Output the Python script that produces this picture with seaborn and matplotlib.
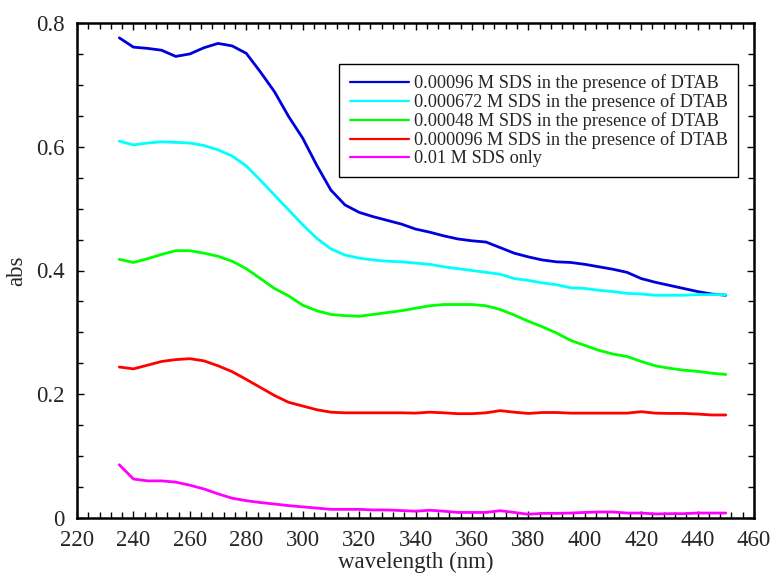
import matplotlib
matplotlib.use("Agg")
import matplotlib.pyplot as plt
import matplotlib.ticker as mticker
import numpy as np
import pandas as pd
import seaborn as sns

# Wavelengths (nm) at which absorbance was recorded
wavelength = [235, 240, 245, 250, 255, 260, 265, 270, 275, 280, 285, 290, 295, 300,
              305, 310, 315, 320, 325, 330, 335, 340, 345, 350, 355, 360, 365, 370,
              375, 380, 385, 390, 395, 400, 405, 410, 415, 420, 425, 430, 435, 440,
              445, 450]

abs_00096 = [0.776, 0.761, 0.759, 0.756, 0.746, 0.750, 0.760, 0.767, 0.763, 0.751,
             0.721, 0.689, 0.649, 0.614, 0.570, 0.530, 0.506, 0.494, 0.487, 0.481,
             0.475, 0.467, 0.462, 0.456, 0.451, 0.448, 0.446, 0.437, 0.428, 0.422,
             0.417, 0.414, 0.413, 0.410, 0.406, 0.402, 0.397, 0.387, 0.381, 0.376,
             0.371, 0.366, 0.362, 0.360]

abs_000672 = [0.609, 0.603, 0.606, 0.608, 0.607, 0.606, 0.602, 0.595, 0.585, 0.569,
              0.546, 0.522, 0.498, 0.474, 0.452, 0.435, 0.425, 0.420, 0.417, 0.415,
              0.414, 0.412, 0.410, 0.406, 0.403, 0.400, 0.397, 0.394, 0.387, 0.384,
              0.380, 0.377, 0.372, 0.371, 0.368, 0.366, 0.363, 0.362, 0.360, 0.360,
              0.360, 0.361, 0.361, 0.361]

abs_00048 = [0.418, 0.413, 0.419, 0.426, 0.432, 0.432, 0.428, 0.423, 0.415, 0.403,
             0.387, 0.371, 0.359, 0.344, 0.335, 0.329, 0.327, 0.326, 0.329, 0.332,
             0.335, 0.339, 0.343, 0.345, 0.345, 0.345, 0.343, 0.337, 0.328, 0.318,
             0.309, 0.299, 0.287, 0.279, 0.271, 0.265, 0.261, 0.253, 0.246, 0.242,
             0.239, 0.237, 0.234, 0.232]

abs_000096 = [0.244, 0.241, 0.247, 0.253, 0.256, 0.2575, 0.254, 0.246, 0.2365, 0.224,
              0.211, 0.198, 0.187, 0.181, 0.175, 0.171, 0.170, 0.170, 0.170, 0.170,
              0.170, 0.1695, 0.171, 0.170, 0.1686, 0.1686, 0.170, 0.1735, 0.171, 0.169,
              0.1705, 0.1705, 0.1695, 0.1695, 0.1695, 0.1695, 0.1695, 0.1718, 0.1695, 0.169,
              0.169, 0.168, 0.1665, 0.1665]

abs_sds_only = [0.086, 0.063, 0.060, 0.060, 0.058, 0.053, 0.047, 0.039, 0.032, 0.028,
                0.025, 0.0226, 0.020, 0.018, 0.016, 0.014, 0.014, 0.014, 0.013, 0.013,
                0.012, 0.011, 0.0125, 0.011, 0.009, 0.009, 0.009, 0.0118, 0.009, 0.006,
                0.0075, 0.0075, 0.008, 0.009, 0.0097, 0.0097, 0.008, 0.008, 0.0065, 0.007,
                0.007, 0.008, 0.008, 0.008]

series_labels = [
    "0.00096 M SDS in the presence of DTAB",
    "0.000672 M SDS in the presence of DTAB",
    "0.00048 M SDS in the presence of DTAB",
    "0.000096 M SDS in the presence of DTAB",
    "0.01 M SDS only",
]
series_values = [abs_00096, abs_000672, abs_00048, abs_000096, abs_sds_only]
series_colors = ["#0000dd", "#00ffff", "#00ff00", "#ff0000", "#ff00ff"]

x_ticks = [220, 240, 260, 280, 300, 320, 340, 360, 380, 400, 420, 440, 460]
y_ticks = [0, 0.2, 0.4, 0.6, 0.8]
y_tick_labels = ["0", "0.2", "0.4", "0.6", "0.8"]

frames = [pd.DataFrame({"wavelength": wavelength, "abs": vals, "sample": lab})
          for lab, vals in zip(series_labels, series_values)]
df = pd.concat(frames, ignore_index=True)

sns.set_style("ticks")
plt.rcParams["font.family"] = ["Liberation Serif", "DejaVu Serif"]

fig = plt.figure(figsize=(7.73, 5.73), dpi=100)
ax = fig.add_axes([77 / 773, 55 / 573, 677 / 773, 495 / 573])

sns.lineplot(data=df, x="wavelength", y="abs", hue="sample",
             hue_order=series_labels,
             palette=dict(zip(series_labels, series_colors)),
             linewidth=2.0, ax=ax, legend=True)

ax.set_xlim(220, 460)
ax.set_ylim(0, 0.8)
ax.set_xticks(x_ticks)
ax.set_yticks(y_ticks)
ax.set_yticklabels(y_tick_labels)
ax.xaxis.set_minor_locator(mticker.MultipleLocator(4))
ax.yaxis.set_minor_locator(mticker.MultipleLocator(0.05))

ax.tick_params(which="both", direction="in", top=True, right=True,
               color="black", width=1.0)
ax.tick_params(which="major", length=5, labelsize=16.5, pad=9)
ax.tick_params(which="minor", length=4)
for sp in ax.spines.values():
    sp.set_visible(True)
    sp.set_color("black")
    sp.set_linewidth(1.8)

ax.set_xlabel("wavelength (nm)", fontsize=16.5, labelpad=0)
ax.set_ylabel("abs", fontsize=16.5, labelpad=6)

handles, labels = ax.get_legend_handles_labels()
leg = ax.legend(handles, labels, loc="upper right",
                bbox_to_anchor=(661.3 / 677, 453.7 / 495),
                borderaxespad=0, fontsize=13.15, frameon=True, fancybox=False,
                edgecolor="black", framealpha=1, handlelength=3.25,
                handletextpad=0.3, labelspacing=0.06, borderpad=0.55)
leg.get_frame().set_linewidth(1.0)
for line in leg.get_lines():
    line.set_linewidth(1.6)

fig.savefig("out.png", dpi=100)
